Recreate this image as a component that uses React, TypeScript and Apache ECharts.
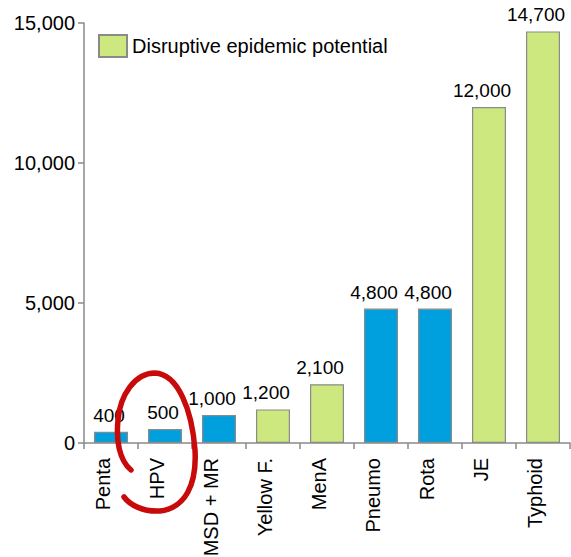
import React, { useEffect, useRef } from "react";
import * as echarts from "echarts";

const categories = ["Penta", "HPV", "MSD + MR", "Yellow F.", "MenA", "Pneumo", "Rota", "JE", "Typhoid"];
const values = [400, 500, 1000, 1200, 2100, 4800, 4800, 12000, 14700];
const disruptive = [false, false, false, true, true, false, false, true, true];
const yTicks = [0, 5000, 10000, 15000];
const legendLabel = "Disruptive epidemic potential";

const BLUE = "#00A0DE";
const GREEN = "#CDE87E";
const BORDER = "#8A8A8A";
const FONT = "'Liberation Sans', Arial, sans-serif";
const FS = 20;

const circlePath =
  "M 131 470 C 119 460, 116 440, 118 420 C 120 395, 135 373, 155 373 C 178 374, 192 410, 195 450 C 197 485, 185 508, 160 511 C 143 512, 130 505, 124 497";

let registered = false;

export default function App() {
  const ref = useRef<HTMLDivElement>(null);
  useEffect(() => {
    if (!ref.current) return;
    if (!registered) {
      echarts.graphic.registerShape("handCircle", echarts.graphic.extendPath(circlePath, {}));
      registered = true;
    }
    const chart = echarts.init(ref.current, undefined, { renderer: "svg" });
    const fmt = (v: number) => v.toLocaleString("en-US");
    const label = {
      show: true,
      position: "top",
      distance: 7,
      fontSize: 19,
      color: "#000",
      fontFamily: FONT,
      formatter: (p: any) => fmt(p.value),
    };
    const item = (v: number) => ({ value: v, label: { offset: [v >= 1000 ? -7 : -2, 0] } });
    chart.setOption({
      animation: false,
      textStyle: { fontFamily: FONT },
      grid: { left: 84, right: 1, top: 23, bottom: 114, containLabel: false, outerBoundsMode: "none" },
      legend: {
        data: [{ name: legendLabel, icon: "rect" }],
        left: 93,
        top: 29,
        itemWidth: 28,
        itemHeight: 22,
        itemGap: 10,
        textStyle: { fontSize: FS, color: "#000", fontFamily: FONT },
        selectedMode: false,
      },
      xAxis: {
        type: "category",
        data: categories,
        axisLine: { lineStyle: { color: BORDER, width: 1.5 } },
        axisTick: { show: true, length: 6, lineStyle: { color: BORDER, width: 1.5 } },
        axisLabel: {
          rotate: 90,
          fontSize: FS,
          color: "#000",
          margin: 15,
          fontFamily: FONT,
          verticalAlign: "bottom",
          lineHeight: 16,
        },
      },
      yAxis: {
        type: "value",
        min: yTicks[0],
        max: yTicks[yTicks.length - 1],
        interval: yTicks[1] - yTicks[0],
        splitLine: { show: false },
        axisLine: { show: true, lineStyle: { color: BORDER, width: 1.5 } },
        axisTick: { show: true, length: 6, lineStyle: { color: BORDER, width: 1.5 } },
        axisLabel: { fontSize: FS, color: "#000", margin: 9, fontFamily: FONT, formatter: (v: number) => fmt(v) },
      },
      series: [
        {
          name: "Other",
          type: "bar",
          stack: "all",
          barWidth: 34,
          data: values.map((v, i) => (disruptive[i] ? "-" : item(v))),
          itemStyle: { color: BLUE, borderColor: BORDER, borderWidth: 1.2 },
          label,
        },
        {
          name: legendLabel,
          type: "bar",
          stack: "all",
          barWidth: 34,
          data: values.map((v, i) => (disruptive[i] ? item(v) : "-")),
          itemStyle: { color: GREEN, borderColor: BORDER, borderWidth: 1.2 },
          label,
        },
      ],
      graphic: [
        {
          type: "handCircle",
          x: 0,
          y: 0,
          style: { fill: "none", stroke: "#C80A0A", lineWidth: 5.5, lineCap: "round" },
          z: 100,
        },
      ],
    });
    return () => chart.dispose();
  }, []);
  return (
    <div
      ref={ref}
      style={{ position: "absolute", left: 0, top: 0, width: 571, height: 557, background: "#fff" }}
    />
  );
}
